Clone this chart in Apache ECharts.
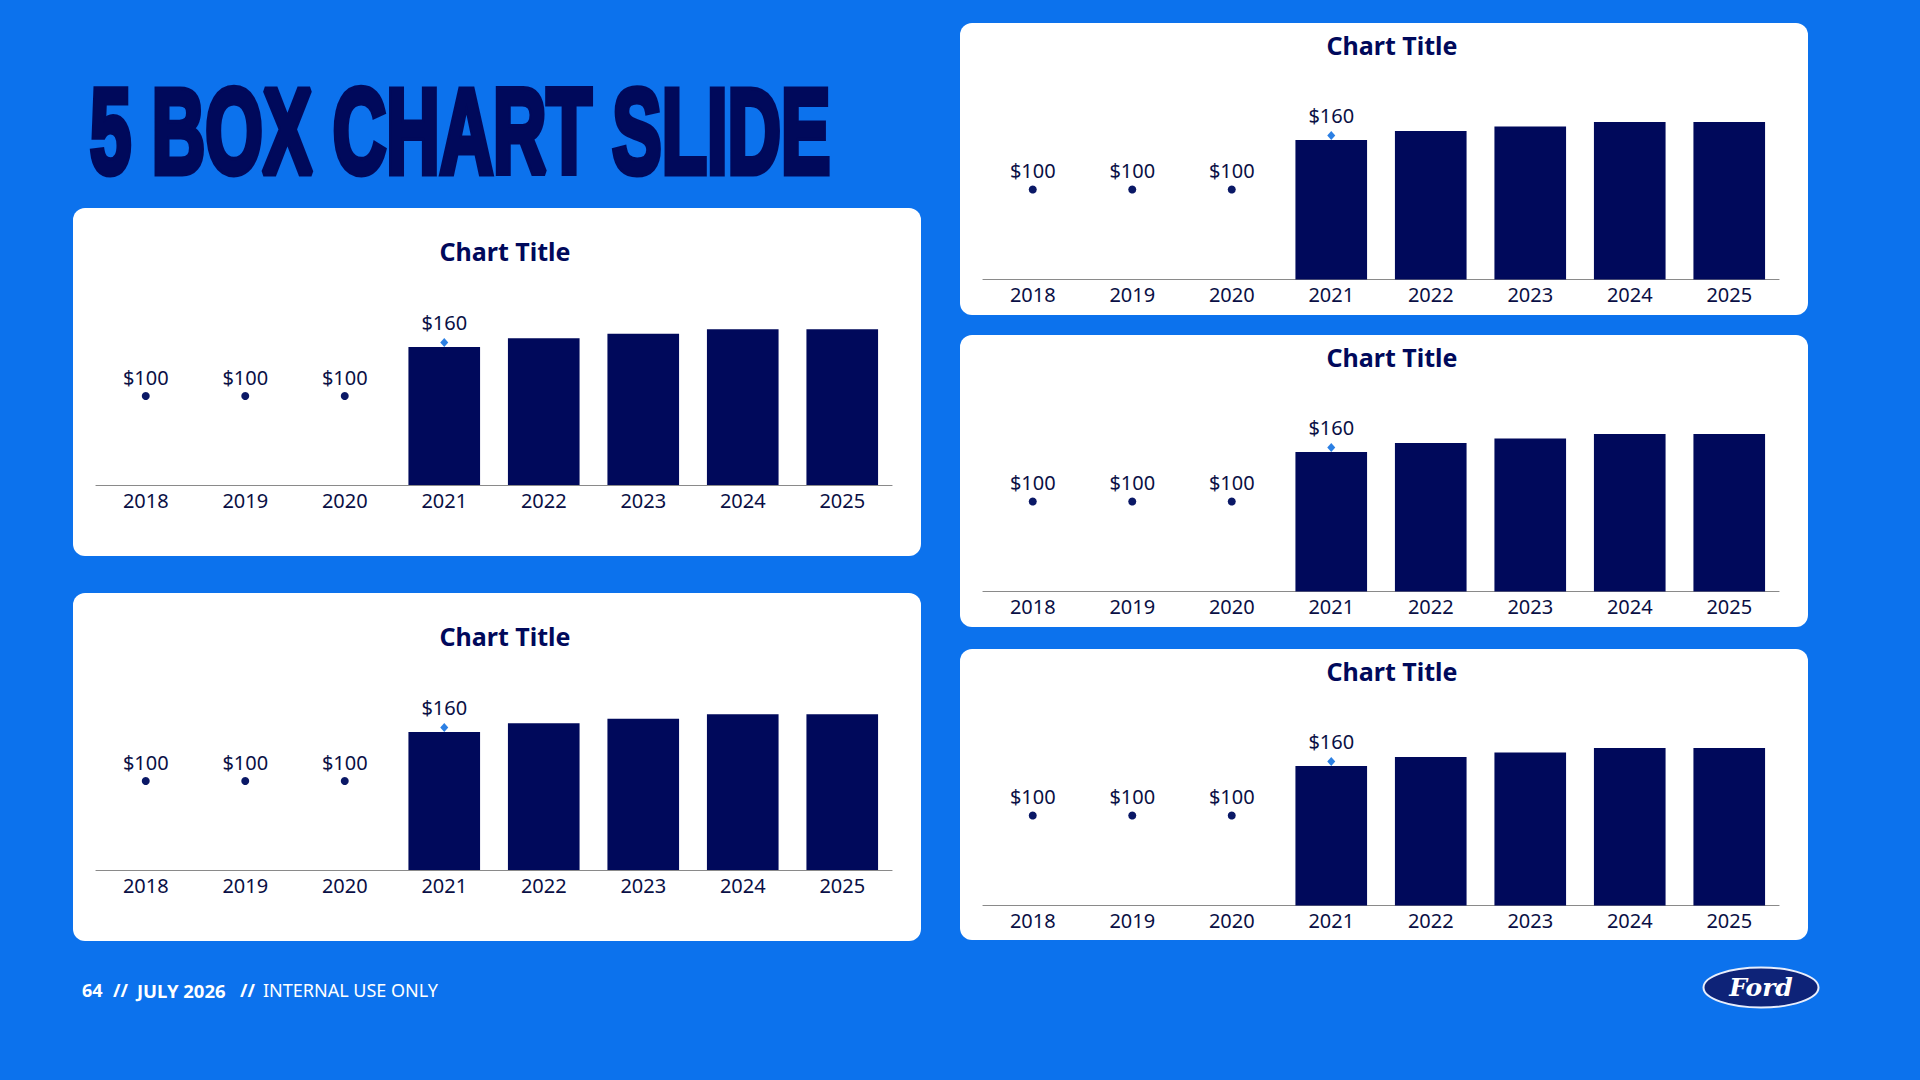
<!DOCTYPE html>
<html>
<head>
<meta charset="utf-8">
<script src="https://cdn.jsdelivr.net/npm/echarts@6/dist/echarts.min.js"></script>
<style>
html,body{margin:0;padding:0;background:#0c72ed;}
#main{width:1920px;height:1080px;}
</style>
</head>
<body>
<div id="main"></div>
<script>
// ---- data ----
const categories = ['2018','2019','2020','2021','2022','2023','2024','2025'];
const dotValues = [100, 100, 100, null, null, null, null, null];
const markerValues = [null, null, null, 160, null, null, null, null];
const barValues = [null, null, null, 155, 165, 170, 175, 175];
const chartTitles = ['Chart Title','Chart Title','Chart Title','Chart Title','Chart Title'];
const slideTitle = '5 BOX CHART SLIDE';
const footerParts = ['64', '//', 'JULY 2026', '//', 'INTERNAL USE ONLY'];
const logoText = 'Ford';

// ---- layout / style ----
const NAVY = '#00095b';
const BG = '#0c72ed';
const FONT = '"Noto Sans", "Open Sans", sans-serif';
const panels = [
  {x:73,  y:208, w:848, h:348, titleDy:43, axisDy:277,   k:0.89},
  {x:73,  y:593, w:848, h:348, titleDy:43, axisDy:277,   k:0.89},
  {x:960, y:23,  w:848, h:292, titleDy:22, axisDy:256.5, k:0.90},
  {x:960, y:335, w:848, h:292, titleDy:22, axisDy:256.5, k:0.90},
  {x:960, y:649, w:848, h:291, titleDy:22, axisDy:256.5, k:0.90}
];
const Y_MAX = 200;

const chart = echarts.init(document.getElementById('main'), null, {renderer:'svg', width:1920, height:1080});

// measure title to fit target width
const ctx = document.createElement('canvas').getContext('2d');
const titleFont = 'bold 120px "Liberation Sans"';
ctx.font = titleFont;
const titleW = ctx.measureText(slideTitle).width;
const titleScale = 740 / titleW;

const grids = [], xAxes = [], yAxes = [], series = [], graphics = [];

panels.forEach((p, i) => {
  graphics.push({type:'rect', z:0, shape:{x:p.x, y:p.y, width:p.w, height:p.h, r:12}, style:{fill:'#ffffff'}});
  graphics.push({type:'text', z:5, x:p.x + 432, y:p.y + p.titleDy,
    style:{text:chartTitles[i], fill:NAVY, font:'bold 25px "Noto Sans"', align:'center', verticalAlign:'middle'}});
  const gh = Y_MAX * p.k;
  grids.push({left:p.x + 23, width:796, top:p.y + p.axisDy - gh, height:gh, containLabel:false});
  xAxes.push({type:'category', gridIndex:i, data:categories,
    axisTick:{show:false},
    axisLine:{lineStyle:{color:'#8a8a8a', width:1.2}},
    axisLabel:{color:'#0a0f45', fontSize:20, fontFamily:FONT, margin:5}});
  yAxes.push({type:'value', gridIndex:i, min:0, max:Y_MAX, show:false, splitLine:{show:false}});
  series.push({type:'bar', xAxisIndex:i, yAxisIndex:i, barWidth:'72%', z:2,
    data:barValues.map(v => v == null ? '-' : v),
    itemStyle:{color:NAVY}});
  series.push({type:'scatter', xAxisIndex:i, yAxisIndex:i, symbol:'circle', symbolSize:8, z:3,
    data:categories.map((c, j) => dotValues[j] == null ? null : [c, dotValues[j]]).filter(Boolean),
    itemStyle:{color:'#0a1866', opacity:1},
    label:{show:true, position:'top', distance:5, color:'#0a0f45', fontSize:20, fontFamily:FONT,
      formatter: prm => '$' + prm.value[1]}});
  series.push({type:'scatter', xAxisIndex:i, yAxisIndex:i, symbol:'diamond', symbolSize:[8,9], z:4,
    data:categories.map((c, j) => markerValues[j] == null ? null : [c, markerValues[j]]).filter(Boolean),
    itemStyle:{color:'#2b7fe3', opacity:1},
    label:{show:true, position:'top', distance:6, color:'#0a0f45', fontSize:20, fontFamily:FONT,
      formatter: prm => '$' + prm.value[1]}});
});

// slide title
graphics.push({type:'text', z:5, x:90, y:131, scaleX:titleScale, scaleY:1,
  style:{text:slideTitle, fill:NAVY, font:titleFont, align:'left', verticalAlign:'middle',
    stroke:NAVY, lineWidth:7}});

// footer
const footerX = [82, 113, 137, 240, 263];
const footerSize = [18, 18, 18.5, 18, 18];
footerParts.forEach((t, i) => {
  graphics.push({type:'text', z:5, x:footerX[i], y:990,
    style:{text:t, fill:'#ffffff', font:(i < 4 ? 'bold ' : '') + footerSize[i] + 'px "Noto Sans"',
      align:'left', verticalAlign:'middle'}});
});

// logo
graphics.push({type:'ellipse', z:5, shape:{cx:1761, cy:987.5, rx:57.5, ry:20},
  style:{fill:'#0e2378', stroke:'#e8eefc', lineWidth:2}});
graphics.push({type:'text', z:6, x:1761, y:987, style:{text:logoText, fill:'#ffffff',
  font:'italic bold 25px "DejaVu Serif"', align:'center', verticalAlign:'middle'}});

chart.setOption({
  backgroundColor: BG,
  animation: false,
  grid: grids,
  xAxis: xAxes,
  yAxis: yAxes,
  series: series,
  graphic: {elements: graphics}
});
</script>
</body>
</html>
